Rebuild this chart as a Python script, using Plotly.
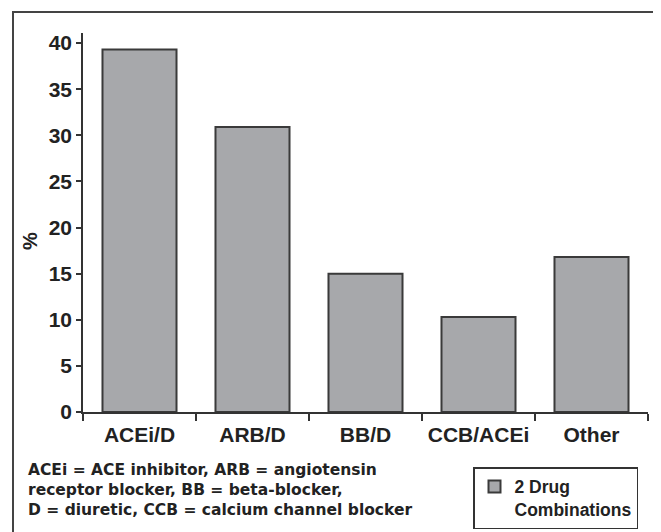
import plotly.graph_objects as go

categories = ["ACEi/D", "ARB/D", "BB/D", "CCB/ACEi", "Other"]
values = [39.3, 30.9, 15.0, 10.3, 16.8]
y_ticks = [0, 5, 10, 15, 20, 25, 30, 35, 40]
series_name = "2 Drug<br>Combinations"
footnote_lines = [
    "ACEi = ACE inhibitor, ARB = angiotensin",
    "receptor blocker, BB = beta-blocker,",
    "D = diuretic, CCB = calcium channel blocker",
]

# The page body has an 8px default margin, so the figure is sized to fill the rest.
OFF = 8
W, H = 661 - OFF, 532 - OFF
L, R, T, B = 75, 13, 25, 120
pw, ph = W - L - R, H - T - B
FONT = "Liberation Sans, Arial, sans-serif"
FOOT_FONT = "DejaVu Sans, sans-serif"

def px(x):  # page pixel -> paper x
    return (x - OFF - L) / pw

def py(y):  # page pixel -> paper y
    return (H - B - (y - OFF)) / ph

fig = go.Figure()
fig.add_trace(go.Bar(
    x=categories, y=values, name=series_name,
    marker=dict(color="#a7a8ab", line=dict(color="#3a3a3a", width=2)),
    showlegend=True,
))

fig.update_layout(
    width=W, height=H,
    margin=dict(l=L, r=R, t=T, b=B, autoexpand=False),
    paper_bgcolor="white", plot_bgcolor="white",
    bargap=0.345,
    font=dict(family=FONT, color="#222222"),
    xaxis=dict(
        showline=True, linecolor="#333333", linewidth=1.5,
        ticks="outside", ticklen=7, tickcolor="#333333", tickwidth=1.5,
        tickson="boundaries", showgrid=False, ticklabelstandoff=3,
        tickfont=dict(size=21, family=FONT, color="#222222", weight="bold"),
    ),
    yaxis=dict(
        range=[0, 41.1], tickvals=y_ticks,
        showline=True, linecolor="#333333", linewidth=1.5,
        ticks="outside", ticklen=5, tickcolor="#333333", tickwidth=1.5,
        showgrid=False, zeroline=False,
        tickfont=dict(size=21, family=FONT, color="#222222", weight="bold"),
    ),
    legend=dict(
        x=px(473), y=py(467), xanchor="left", yanchor="top",
        bordercolor="#333333", borderwidth=1.5, bgcolor="white",
        font=dict(size=17.5, family=FONT, color="#222222", weight="bold"),
        valign="top",
    ),
    showlegend=True,
)

shapes = [dict(type="rect", xref="paper", yref="paper",
               x0=px(13), x1=px(658), y0=py(545), y1=py(12),
               line=dict(color="#444444", width=2), fillcolor="rgba(0,0,0,0)",
               layer="below")]
fig.update_layout(shapes=shapes)

annotations = [
    dict(text="%", xref="paper", yref="paper", x=px(30), y=py(241),
         xanchor="center", yanchor="middle", showarrow=False, textangle=-90,
         font=dict(size=20, family=FONT, color="#222222", weight="bold")),
    dict(text="<br>".join(footnote_lines), xref="paper", yref="paper",
         x=px(26), y=py(489.5), xanchor="left", yanchor="middle", align="left",
         showarrow=False,
         font=dict(size=15.5, family=FOOT_FONT, color="#222222", weight="bold")),
]
fig.update_layout(annotations=annotations)

fig.write_html("out.html")
